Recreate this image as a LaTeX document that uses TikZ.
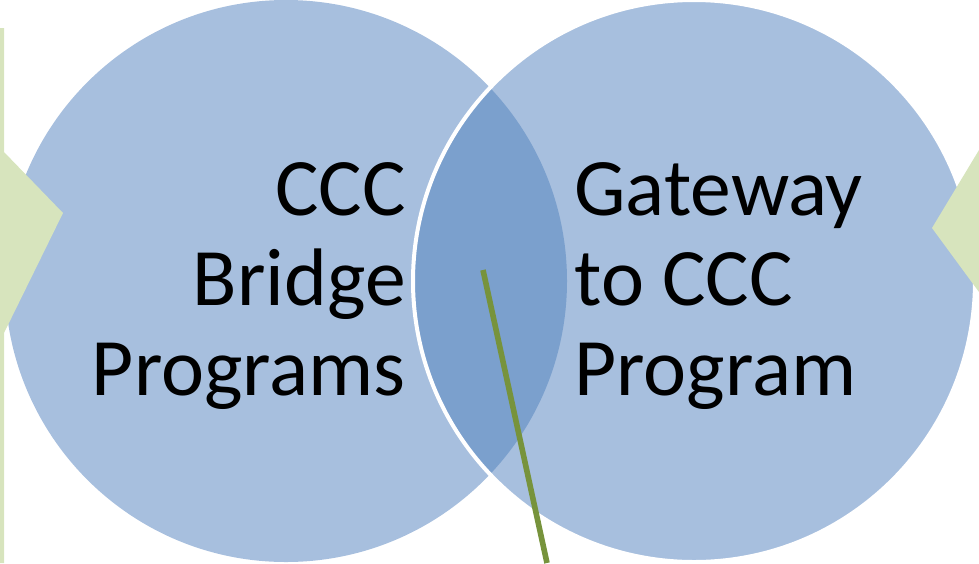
\documentclass[tikz,border=0pt]{standalone}
\usepackage{fontspec}
\setmainfont{Carlito}
\usepackage{tikz}

\definecolor{circblue}{HTML}{A7BFDE}
\definecolor{lensblue}{HTML}{7BA0CD}
\definecolor{paleolive}{HTML}{D7E4BD}
\definecolor{olive}{HTML}{77933C}

\tikzset{
  circ/.style={circle, fill=circblue, inner sep=0pt, minimum size=281pt},
  label/.style={inner sep=0pt, font=\fontsize{40.8}{45}\selectfont},
  arrowpart/.style={fill=paleolive, draw=none}
}

\begin{document}
\begin{tikzpicture}[x=0.5pt, y=-0.5pt]
\useasboundingbox (0,0) rectangle (979,563);

\node (bridgecirc) [circ] at (286,281) {};
\node (gatecirc) [circ] at (694,281) {};

% overlap of the two circles
\begin{scope}
  \clip (bridgecirc.center) circle[radius=281];
  \fill[lensblue] (gatecirc.center) circle[radius=281];
\end{scope}
\draw[white, line width=2pt] (gatecirc.center) circle[radius=281];

\node (bridge) [label, align=right, anchor=north east] at (406,162) {CCC\\ Bridge\\ Programs};
\node (gateway) [label, align=left, anchor=north west] at (574,162) {Gateway\\ to CCC\\ Program};

% arrows cut by the page edges
\path[arrowpart] (0,28) -- (4,28) -- (4,152) -- (63,213) -- (4,333) -- (4,563) -- (0,563) -- cycle;
\path[arrowpart] (979,150) -- (932,228) -- (979,292) -- cycle;

\coordinate (lens) at (483,270);
\coordinate (tail) at (547,563);
\draw[olive, line width=2.8pt] (lens) -- (tail);

\end{tikzpicture}
\end{document}
